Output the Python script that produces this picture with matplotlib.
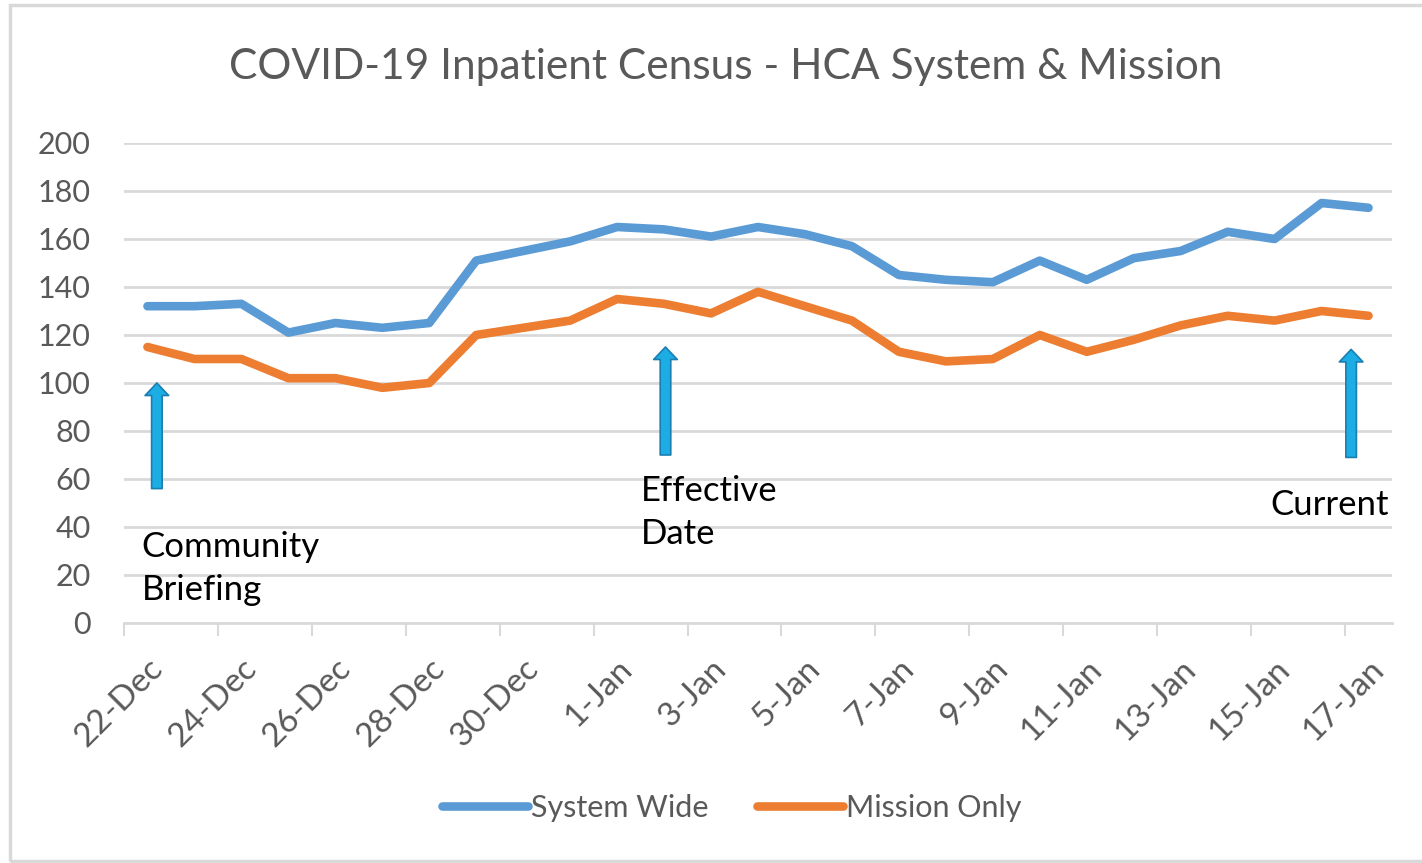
import matplotlib.pyplot as plt
import numpy as np
from matplotlib.patches import Rectangle

# daily census, 22-Dec to 17-Jan
days = ['22-Dec', '23-Dec', '24-Dec', '25-Dec', '26-Dec', '27-Dec', '28-Dec',
        '29-Dec', '30-Dec', '31-Dec', '1-Jan', '2-Jan', '3-Jan', '4-Jan',
        '5-Jan', '6-Jan', '7-Jan', '8-Jan', '9-Jan', '10-Jan', '11-Jan',
        '12-Jan', '13-Jan', '14-Jan', '15-Jan', '16-Jan', '17-Jan']
system_wide = [132, 132, 133, 121, 125, 123, 125, 151, 155, 159, 165, 164, 161, 165,
               162, 157, 145, 143, 142, 151, 143, 152, 155, 163, 160, 175, 173]
mission_only = [115, 110, 110, 102, 102, 98, 100, 120, 123, 126, 135, 133, 129, 138,
                132, 126, 113, 109, 110, 120, 113, 118, 124, 128, 126, 130, 128]

# callouts: text, arrow x (category), arrow tip, arrow tail, text x, text top
notes = ['Community\nBriefing', 'Effective\nDate', 'Current']
note_arrow_x = [0.2, 11.03, 25.63]
note_tip = [100, 115, 114]
note_tail = [56, 70, 69]
note_text_x = [-0.12, 10.5, 23.9]
note_text_y = [38.5, 61.5, 56]

grey = '#595959'
grid = '#d9d9d9'
blue = '#5b9bd5'
orange = '#ed7d31'

plt.rcParams['font.family'] = ['Lato', 'DejaVu Sans']

fig = plt.figure(figsize=(14.22, 8.63), dpi=100)
ax = fig.add_axes([124 / 1422, 1 - 623 / 863, (1392 - 124) / 1422, (623 - 143) / 863])

x = np.arange(len(days))
ax.plot(x, system_wide, color=blue, lw=6.2, solid_capstyle='round',
        solid_joinstyle='round', label='System Wide', zorder=3)
ax.plot(x, mission_only, color=orange, lw=6.2, solid_capstyle='round',
        solid_joinstyle='round', label='Mission Only', zorder=3)

ax.set_xlim(-0.5, len(days) - 0.5)
ax.set_ylim(0, 200)
ax.set_yticks(np.arange(0, 201, 20))
ax.yaxis.grid(True, color=grid, lw=2)
ax.set_axisbelow(True)
for s in ['top', 'right', 'left']:
    ax.spines[s].set_visible(False)
ax.spines['bottom'].set_color(grid)
ax.spines['bottom'].set_linewidth(2)

ax.set_xticks(x[::2])
ax.set_xticklabels(days[::2], rotation=45, ha='right', rotation_mode='anchor')
ax.set_xticks(np.arange(-0.5, len(days) - 1, 2), minor=True)
ax.tick_params(axis='x', which='major', length=0, pad=22, labelsize=24, labelcolor=grey)
ax.tick_params(axis='x', which='minor', length=9, width=1.5, color=grid)
ax.tick_params(axis='y', length=0, pad=24, labelsize=22, labelcolor=grey)

fig.suptitle('COVID-19 Inpatient Census - HCA System & Mission', x=726 / 1422,
             y=1 - 67 / 863, va='center', fontsize=30.6, color=grey)

for txt, ax_x, tip, tail, tx, ty in zip(notes, note_arrow_x, note_tip, note_tail,
                                       note_text_x, note_text_y):
    ax.annotate('', xy=(ax_x, tip), xytext=(ax_x, tail),
                arrowprops=dict(arrowstyle='simple,head_length=0.45,head_width=0.85,tail_width=0.38',
                                mutation_scale=20, fc='#1cade4', ec='#1a7fb0', lw=1.2,
                                shrinkA=0, shrinkB=0))
    ax.text(tx, ty, txt, ha='left', va='top', fontsize=25, color='black',
            linespacing=1.42)

fig.legend(loc='center', bbox_to_anchor=(732 / 1422, 1 - 808 / 863), ncol=2,
           frameon=False, fontsize=22, labelcolor=grey, handlelength=2.8,
           handletextpad=0.1, columnspacing=1.6)

fig.add_artist(Rectangle((10 / 1422, 2 / 863), 1.2, 1 - 7 / 863, transform=fig.transFigure,
                         fill=False, ec=grid, lw=2.5))

fig.savefig('out.png', dpi=100)
